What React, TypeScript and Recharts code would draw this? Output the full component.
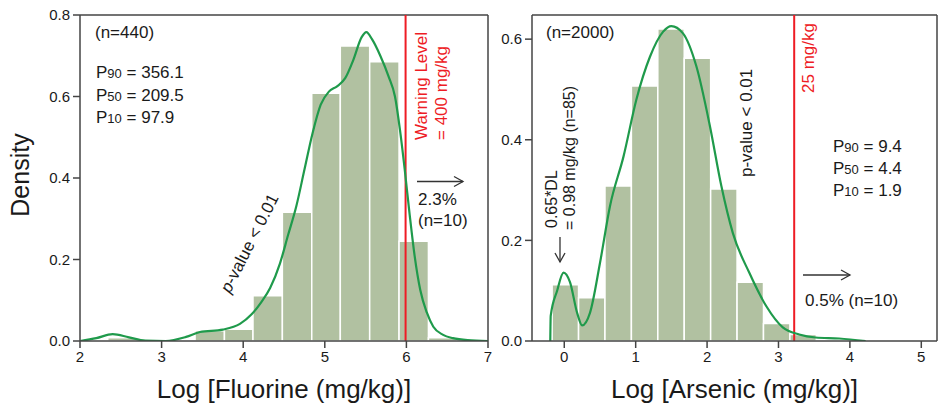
import { ComposedChart, Line, XAxis, YAxis, ReferenceArea, ReferenceLine } from 'recharts';

// Fluorine histogram (log scale bins) and KDE
const fluorineEdges = [2.34, 2.7, 3.05, 3.41, 3.77, 4.12, 4.48, 4.84, 5.19, 5.55, 5.91, 6.27, 6.62];
const fluorineDensity = [0.008, 0, 0, 0.025, 0.029, 0.111, 0.316, 0.608, 0.724, 0.685, 0.245, 0.008];
const fluorineKdeX = [2.0, 2.2, 2.4, 2.6, 2.8, 3.05, 3.3, 3.47, 3.75, 3.96, 4.1, 4.22, 4.33, 4.45, 4.55, 4.65, 4.75, 4.85, 4.95, 5.05, 5.15, 5.25, 5.35, 5.45, 5.51, 5.58, 5.68, 5.78, 5.86, 5.92, 5.98, 6.04, 6.1, 6.17, 6.25, 6.33, 6.45, 6.57, 6.75, 7.0];
const fluorineKdeY = [0, 0.007, 0.017, 0.009, 0.001, 0, 0.01, 0.022, 0.028, 0.042, 0.065, 0.095, 0.13, 0.19, 0.26, 0.33, 0.42, 0.51, 0.58, 0.612, 0.625, 0.645, 0.69, 0.745, 0.758, 0.74, 0.7, 0.65, 0.6, 0.52, 0.42, 0.31, 0.21, 0.125, 0.07, 0.035, 0.015, 0.007, 0.002, 0];

// Arsenic histogram and KDE
const arsenicEdges = [-0.17, 0.2, 0.57, 0.94, 1.31, 1.68, 2.05, 2.42, 2.79, 3.16, 3.53];
const arsenicDensity = [0.112, 0.086, 0.308, 0.507, 0.62, 0.562, 0.302, 0.117, 0.035, 0.013];
const arsenicKdeX = [-0.196, -0.19, -0.1, -0.01, 0.08, 0.18, 0.25, 0.36, 0.5, 0.64, 0.83, 1.01, 1.2, 1.385, 1.5, 1.66, 1.85, 2.04, 2.2, 2.36, 2.59, 2.83, 3.06, 3.29, 3.52, 3.85, 4.22];
const arsenicKdeY = [0, 0.05, 0.1, 0.136, 0.117, 0.056, 0.031, 0.056, 0.155, 0.268, 0.367, 0.48, 0.565, 0.615, 0.626, 0.612, 0.546, 0.427, 0.308, 0.215, 0.136, 0.069, 0.027, 0.013, 0.007, 0.005, 0];

const fluorineXTicks = [2, 3, 4, 5, 6, 7];
const fluorineYTicks = [0, 0.2, 0.4, 0.6, 0.8];
const arsenicXTicks = [0, 1, 2, 3, 4, 5];
const arsenicYTicks = [0, 0.2, 0.4, 0.6];

const FONT = '"Liberation Sans", Arial, sans-serif';
const BAR = '#b1c1a1';
const KDE = '#1f9a4b';
const RED = '#ee1c25';
const AXIS = '#444';
const TEXT = '#1a1a1a';

interface PanelProps {
  width: number;
  edges: number[];
  density: number[];
  kdeX: number[];
  kdeY: number[];
  xDomain: [number, number];
  yDomain: [number, number];
  xTicks: number[];
  yTicks: number[];
  limit: number;
  xLabel: string;
  yAxisWidth: number;
  marginLeft: number;
  marginRight: number;
}

function HistPanel(p: PanelProps) {
  const kde = p.kdeX.map((x, i) => ({ x, y: p.kdeY[i] }));
  const tick = { fontSize: 15, fill: TEXT, fontFamily: FONT };
  return (
    <ComposedChart
      width={p.width}
      height={409}
      margin={{ top: 15, right: p.marginRight, bottom: 0, left: p.marginLeft }}
    >
      <XAxis
        type="number"
        dataKey="x"
        domain={p.xDomain}
        ticks={p.xTicks}
        allowDataOverflow
        height={68}
        tick={tick}
        tickSize={7}
        tickMargin={3}
        axisLine={{ stroke: AXIS, strokeWidth: 1.5 }}
        tickLine={{ stroke: AXIS, strokeWidth: 1.5 }}
        label={{ value: p.xLabel, position: 'insideBottom', offset: 11, fontSize: 26, fill: TEXT, fontFamily: FONT }}
      />
      <YAxis
        type="number"
        domain={p.yDomain}
        ticks={p.yTicks}
        allowDataOverflow
        width={p.yAxisWidth}
        tick={tick}
        tickSize={7}
        tickMargin={3}
        tickFormatter={(v: number) => v.toFixed(1)}
        axisLine={{ stroke: AXIS, strokeWidth: 1.5 }}
        tickLine={{ stroke: AXIS, strokeWidth: 1.5 }}
      />

      {p.density.map((d, i) =>
        d > 0 ? (
          <ReferenceArea
            key={`bin-${i}`}
            x1={p.edges[i]}
            x2={p.edges[i + 1]}
            y1={0}
            y2={d}
            fill={BAR}
            fillOpacity={1}
            stroke="#ffffff"
            strokeWidth={1.5}
          />
        ) : null
      )}

      {/* frame: top and right edges */}
      <ReferenceLine y={p.yDomain[1]} stroke={AXIS} strokeWidth={1.5} />
      <ReferenceLine x={p.xDomain[1]} stroke={AXIS} strokeWidth={1.5} />

      <ReferenceLine x={p.limit} stroke={RED} strokeWidth={2} />

      <Line
        data={kde}
        dataKey="y"
        type="monotone"
        stroke={KDE}
        strokeWidth={2.2}
        dot={false}
        activeDot={false}
        isAnimationActive={false}
      />
    </ComposedChart>
  );
}

function Annotations() {
  const t = { fontFamily: FONT, fill: TEXT, fontSize: 17 };
  const sub = { fontSize: 13 };
  const arrowRight = (x1: number, x2: number, y: number) => (
    <g stroke="#333" strokeWidth={1.3} fill="none">
      <line x1={x1} y1={y} x2={x2} y2={y} />
      <polyline points={`${x2 - 9},${y - 5} ${x2},${y} ${x2 - 9},${y + 5}`} />
    </g>
  );
  return (
    <svg width={939} height={409} style={{ position: 'absolute', left: 0, top: 0, pointerEvents: 'none' }}>
      <text x={29} y={175} transform="rotate(-90 29 175)" textAnchor="middle" style={{ ...t, fontSize: 25 }}>Density</text>

      {/* fluorine panel */}
      <text x={95} y={38} style={t}>(n=440)</text>
      <text x={96} y={78} style={t}>P<tspan style={sub}>90</tspan> = 356.1</text>
      <text x={96} y={100.5} style={t}>P<tspan style={sub}>50</tspan> = 209.5</text>
      <text x={96} y={123} style={t}>P<tspan style={sub}>10</tspan> = 97.9</text>
      <text x={427} y={140} transform="rotate(-90 427 140)" style={{ ...t, fill: RED }}>Warning Level</text>
      <text x={447} y={140} transform="rotate(-90 447 140)" style={{ ...t, fill: RED }}>= 400 mg/kg</text>
      {arrowRight(417, 463, 181.5)}
      <text x={418} y={205} style={t}>2.3%</text>
      <text x={418} y={226} style={t}>(n=10)</text>
      <text x={230} y={294} transform="rotate(-63 230 294)" style={t}>
        <tspan fontStyle="italic">p</tspan>-value &lt; 0.01
      </text>

      {/* arsenic panel */}
      <text x={546} y={38} style={t}>(n=2000)</text>
      <text x={557} y={228} transform="rotate(-90 557 228)" style={{ ...t, fontSize: 16 }}>0.65*DL</text>
      <text x={575} y={230} transform="rotate(-90 575 230)" style={{ ...t, fontSize: 16 }}>= 0.98 mg/kg (n=85)</text>
      <g stroke="#333" strokeWidth={1.3} fill="none">
        <line x1={560} y1={237} x2={560} y2={262} />
        <polyline points="555,253 560,262 565,253" />
      </g>
      <text x={752} y={177} transform="rotate(-90 752 177)" style={t}>p-value &lt; 0.01</text>
      <text x={814} y={93} transform="rotate(-90 814 93)" style={{ ...t, fill: RED }}>25 mg/kg</text>
      <text x={833} y={152} style={t}>P<tspan style={sub}>90</tspan> = 9.4</text>
      <text x={833} y={174} style={t}>P<tspan style={sub}>50</tspan> = 4.4</text>
      <text x={833} y={196} style={t}>P<tspan style={sub}>10</tspan> = 1.9</text>
      {arrowRight(803, 850, 275)}
      <text x={805} y={306} style={t}>0.5% (n=10)</text>
    </svg>
  );
}

export default function App() {
  return (
    <div style={{ position: 'fixed', left: 0, top: 0, width: 939, height: 409, background: '#fff', fontFamily: FONT }}>
      <div style={{ position: 'absolute', left: 0, top: 0 }}>
        <HistPanel
          width={495}
          edges={fluorineEdges}
          density={fluorineDensity}
          kdeX={fluorineKdeX}
          kdeY={fluorineKdeY}
          xDomain={[2, 7]}
          yDomain={[0, 0.8]}
          xTicks={fluorineXTicks}
          yTicks={fluorineYTicks}
          limit={5.99}
          xLabel="Log [Fluorine (mg/kg)]"
          yAxisWidth={40}
          marginLeft={40}
          marginRight={7}
        />
      </div>
      <div style={{ position: 'absolute', left: 490, top: 0 }}>
        <HistPanel
          width={449}
          edges={arsenicEdges}
          density={arsenicDensity}
          kdeX={arsenicKdeX}
          kdeY={arsenicKdeY}
          xDomain={[-0.452, 5.22]}
          yDomain={[0, 0.648]}
          xTicks={arsenicXTicks}
          yTicks={arsenicYTicks}
          limit={3.22}
          xLabel="Log [Arsenic (mg/kg)]"
          yAxisWidth={42}
          marginLeft={0}
          marginRight={2}
        />
      </div>
      <Annotations />
    </div>
  );
}
